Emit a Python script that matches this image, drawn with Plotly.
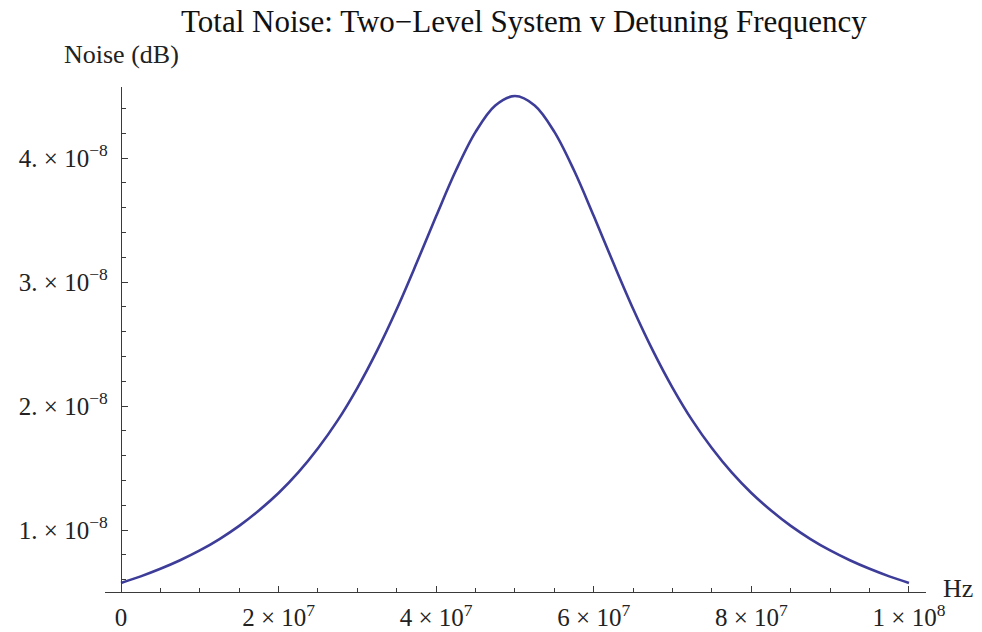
import numpy as np
import plotly.graph_objects as go

# Detuning frequency (Hz) and total noise values
freq_hz = [0, 2.5e6, 5e6, 7.5e6, 1e7, 1.25e7, 1.5e7, 1.75e7, 2e7, 2.25e7,
           2.5e7, 2.75e7, 3e7, 3.25e7, 3.5e7, 3.75e7, 4e7, 4.25e7, 4.5e7, 4.75e7,
           5e7, 5.25e7, 5.5e7, 5.75e7, 6e7, 6.25e7, 6.5e7, 6.75e7, 7e7, 7.25e7,
           7.5e7, 7.75e7, 8e7, 8.25e7, 8.5e7, 8.75e7, 9e7, 9.25e7, 9.5e7, 9.75e7, 1e8]
noise_1e8 = [0.573, 0.626, 0.687, 0.756, 0.835, 0.927, 1.033, 1.157, 1.298, 1.464,
             1.659, 1.884, 2.147, 2.447, 2.783, 3.151, 3.532, 3.899, 4.211, 4.424,
             4.500, 4.424, 4.211, 3.899, 3.532, 3.151, 2.783, 2.447, 2.147, 1.884,
             1.659, 1.464, 1.298, 1.157, 1.033, 0.927, 0.835, 0.756, 0.687, 0.626, 0.573]
noise = [v * 1e-8 for v in noise_1e8]

SP = "\u2005"
x_tickvals = [0, 2e7, 4e7, 6e7, 8e7, 1e8]
x_ticktext = ["0"] + [f"{d}{SP}×{SP}10<sup>{e}</sup>" for d, e in
                      [(2, 7), (4, 7), (6, 7), (8, 7), (1, 8)]]
y_tickvals = [1e-8, 2e-8, 3e-8, 4e-8]
y_ticktext = [f"{d}.{SP}×{SP}10<sup>−8</sup>" for d in [1, 2, 3, 4]]

title_text = "Total Noise: Two\u2212Level System v Detuning Frequency"
y_label = "Noise (dB)"
x_label = "Hz"

xmin, xmax = -2.03e6, 1.0216e8
ymin, ymax = 0.5e-8, 4.573e-8

axis_color = "#3a3a3a"
font_family = "Liberation Serif"

x_minor = [v for v in np.arange(0, 1.0001e8, 5e6) if v not in x_tickvals]
y_minor = [v * 1e-9 for v in range(6, 46, 2) if v % 10 != 0]

fig = go.Figure()
fig.add_trace(go.Scatter(
    x=freq_hz, y=noise, mode="lines",
    line=dict(color="#3d3d99", width=2.6, shape="spline", smoothing=1.0),
    hoverinfo="x+y", showlegend=False,
))

# page body adds an 8px offset, so the figure is 8px smaller and margins shifted
fig.update_layout(
    width=974, height=624,
    margin=dict(l=97, r=56, t=79, b=40, autoexpand=False),
    paper_bgcolor="white", plot_bgcolor="white",
    font=dict(family=font_family, size=25, color="#222"),
    xaxis=dict(
        range=[xmin, xmax], showgrid=False, zeroline=False, automargin=False,
        showline=True, linecolor=axis_color, linewidth=1.3,
        tickmode="array", tickvals=x_tickvals, ticktext=x_ticktext,
        ticks="inside", ticklen=6, tickwidth=1.2, tickcolor=axis_color,
        ticklabelstandoff=3,
        minor=dict(tickmode="array", tickvals=x_minor, ticks="inside",
                   ticklen=4, tickwidth=1.1, tickcolor=axis_color),
        tickfont=dict(family=font_family, size=25, color="#222"),
    ),
    yaxis=dict(
        range=[ymin, ymax], showgrid=False, zeroline=False, automargin=False,
        anchor="free", position=(0 - xmin) / (xmax - xmin),
        showline=True, linecolor=axis_color, linewidth=1.3,
        tickmode="array", tickvals=y_tickvals, ticktext=y_ticktext,
        ticks="inside", ticklen=6, tickwidth=1.2, tickcolor=axis_color,
        ticklabelstandoff=8,
        minor=dict(tickmode="array", tickvals=y_minor, ticks="inside",
                   ticklen=4, tickwidth=1.1, tickcolor=axis_color),
        tickfont=dict(family=font_family, size=25, color="#222"),
    ),
    annotations=[
        dict(text=title_text, xref="paper", yref="paper",
             x=(524 - 105) / 821, y=(592 - 21) / 505, xanchor="center", yanchor="middle",
             showarrow=False, font=dict(family=font_family, size=31, color="#111")),
        dict(text=y_label, xref="paper", yref="paper",
             x=(121 - 105) / 821, y=(592 - 55) / 505, xanchor="center", yanchor="middle",
             showarrow=False, font=dict(family=font_family, size=26, color="#222")),
        dict(text=x_label, xref="paper", yref="paper",
             x=(941 - 105) / 821, y=(592 - 588) / 505, xanchor="left", yanchor="middle",
             showarrow=False, font=dict(family=font_family, size=26, color="#222")),
    ],
)

fig.write_html("out.html")
